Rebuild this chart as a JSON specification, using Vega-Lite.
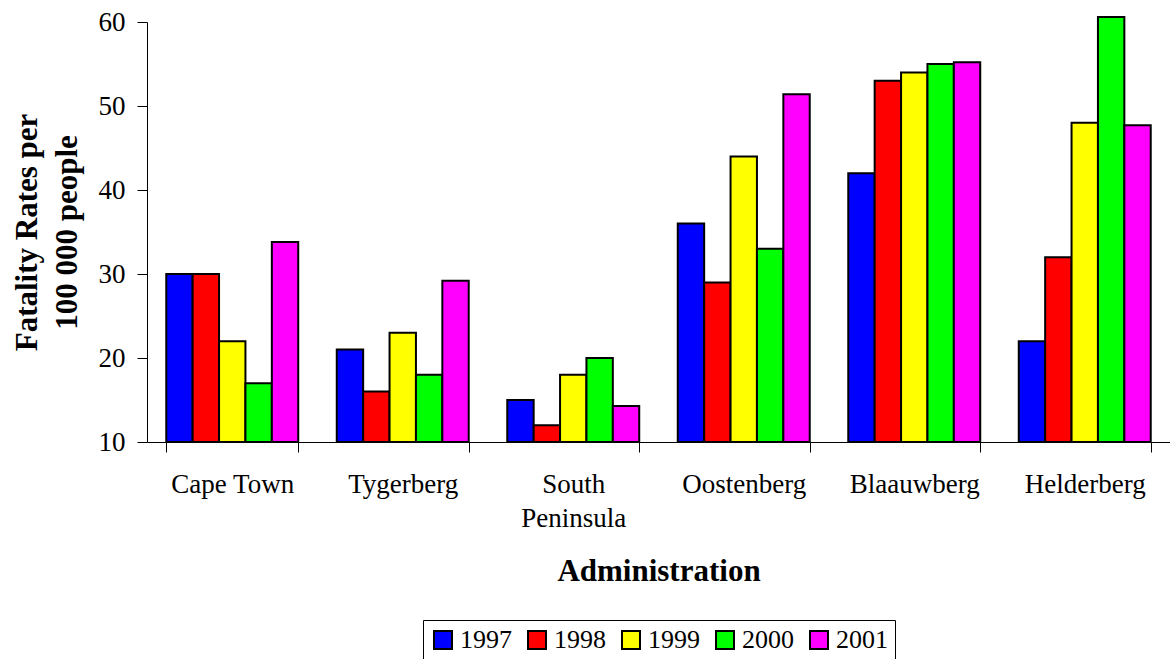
{
  "$schema": "https://vega.github.io/schema/vega-lite/v6.json",
  "autosize": {"type": "none"},
  "padding": {"left": 147, "top": 22, "right": 0, "bottom": 217},
  "width": 1023,
  "height": 420,
  "background": "white",
  "data": {
    "values": [
      {"admin": "Cape Town", "year": "1997", "rate": 30},
      {"admin": "Cape Town", "year": "1998", "rate": 30},
      {"admin": "Cape Town", "year": "1999", "rate": 22},
      {"admin": "Cape Town", "year": "2000", "rate": 17},
      {"admin": "Cape Town", "year": "2001", "rate": 33.8},
      {"admin": "Tygerberg", "year": "1997", "rate": 21},
      {"admin": "Tygerberg", "year": "1998", "rate": 16},
      {"admin": "Tygerberg", "year": "1999", "rate": 23},
      {"admin": "Tygerberg", "year": "2000", "rate": 18},
      {"admin": "Tygerberg", "year": "2001", "rate": 29.2},
      {"admin": "South Peninsula", "year": "1997", "rate": 15},
      {"admin": "South Peninsula", "year": "1998", "rate": 12},
      {"admin": "South Peninsula", "year": "1999", "rate": 18},
      {"admin": "South Peninsula", "year": "2000", "rate": 20},
      {"admin": "South Peninsula", "year": "2001", "rate": 14.3},
      {"admin": "Oostenberg", "year": "1997", "rate": 36},
      {"admin": "Oostenberg", "year": "1998", "rate": 29},
      {"admin": "Oostenberg", "year": "1999", "rate": 44},
      {"admin": "Oostenberg", "year": "2000", "rate": 33},
      {"admin": "Oostenberg", "year": "2001", "rate": 51.4},
      {"admin": "Blaauwberg", "year": "1997", "rate": 42},
      {"admin": "Blaauwberg", "year": "1998", "rate": 53},
      {"admin": "Blaauwberg", "year": "1999", "rate": 54},
      {"admin": "Blaauwberg", "year": "2000", "rate": 55},
      {"admin": "Blaauwberg", "year": "2001", "rate": 55.2},
      {"admin": "Helderberg", "year": "1997", "rate": 22},
      {"admin": "Helderberg", "year": "1998", "rate": 32},
      {"admin": "Helderberg", "year": "1999", "rate": 48},
      {"admin": "Helderberg", "year": "2000", "rate": 60.6},
      {"admin": "Helderberg", "year": "2001", "rate": 47.7}
    ]
  },
  "mark": {"type": "bar", "stroke": "black", "strokeWidth": 2, "opacity": 1},
  "encoding": {
    "x": {
      "field": "admin",
      "type": "nominal",
      "sort": ["Cape Town", "Tygerberg", "South Peninsula", "Oostenberg", "Blaauwberg", "Helderberg"],
      "scale": {"paddingInner": 0.226, "paddingOuter": 0.113},
      "axis": {
        "title": "Administration",
        "titleFont": "Liberation Serif",
        "titleFontSize": 31,
        "titleFontWeight": "bold",
        "titleColor": "black",
        "titleBaseline": "alphabetic",
        "titleY": 138,
        "labelFont": "Liberation Serif",
        "labelFontSize": 27,
        "labelColor": "black",
        "labelAngle": 0,
        "labelBaseline": "top",
        "labelLineHeight": 34,
        "labelPadding": 19,
        "labelExpr": "datum.label == 'South Peninsula' ? ['South', 'Peninsula'] : datum.label",
        "tickBand": "extent",
        "tickSize": 10,
        "tickColor": "black",
        "domainColor": "black",
        "grid": false
      }
    },
    "xOffset": {
      "field": "year",
      "type": "nominal",
      "scale": {"paddingInner": 0, "paddingOuter": 0}
    },
    "y": {
      "field": "rate",
      "type": "quantitative",
      "scale": {"domain": [10, 60], "zero": false, "nice": false},
      "axis": {
        "values": [10, 20, 30, 40, 50, 60],
        "title": ["Fatality Rates per", "100 000 people"],
        "titleFont": "Liberation Serif",
        "titleFontSize": 31,
        "titleFontWeight": "bold",
        "titleColor": "black",
        "titleLineHeight": 40,
        "titleAngle": -90,
        "titleAlign": "center",
        "titleBaseline": "alphabetic",
        "titleX": -111,
        "titleY": 210,
        "labelFont": "Liberation Serif",
        "labelFontSize": 27,
        "labelColor": "black",
        "labelPadding": 12,
        "tickSize": 10,
        "tickColor": "black",
        "domainColor": "black",
        "grid": false
      }
    },
    "y2": {"datum": 10},
    "color": {
      "field": "year",
      "type": "nominal",
      "scale": {
        "domain": ["1997", "1998", "1999", "2000", "2001"],
        "range": ["#0000FF", "#FF0000", "#FFFF00", "#00FF00", "#FF00FF"]
      },
      "legend": {
        "title": null,
        "orient": "none",
        "direction": "horizontal",
        "legendX": 276,
        "legendY": 598,
        "strokeColor": "black",
        "padding": 7,
        "symbolType": "square",
        "symbolSize": 324,
        "symbolStrokeColor": "black",
        "symbolStrokeWidth": 2,
        "symbolOpacity": 1,
        "labelFont": "Liberation Serif",
        "labelFontSize": 26,
        "labelColor": "black",
        "labelOffset": 4,
        "columnPadding": 12
      }
    }
  },
  "config": {
    "font": "Liberation Serif",
    "view": {"stroke": null},
    "axis": {"domainWidth": 1, "tickWidth": 1},
    "legend": {"labelFont": "Liberation Serif"}
  }
}
